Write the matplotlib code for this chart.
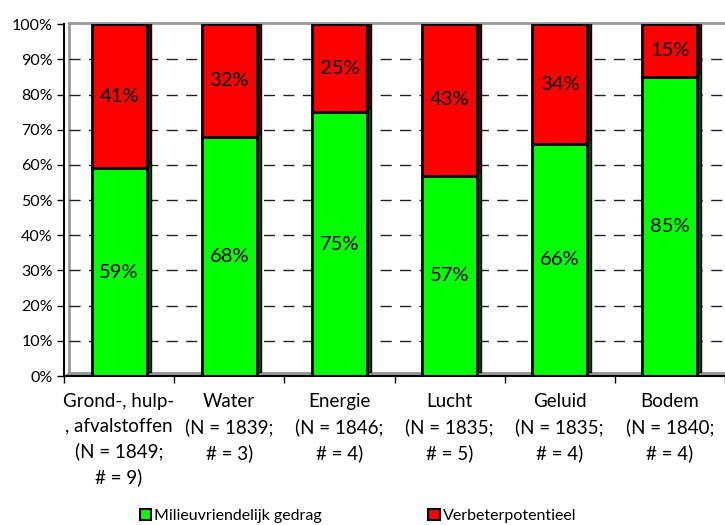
import matplotlib
matplotlib.use("Agg")
import matplotlib.pyplot as plt
from matplotlib.patches import Polygon, Patch

plt.rcParams['font.family'] = ['Lato', 'DejaVu Sans']

categories = ["Grond-, hulp-\n, afvalstoffen\n(N = 1849;\n# = 9)",
              "Water\n(N = 1839;\n# = 3)",
              "Energie\n(N = 1846;\n# = 4)",
              "Lucht\n(N = 1835;\n# = 5)",
              "Geluid\n(N = 1835;\n# = 4)",
              "Bodem\n(N = 1840;\n# = 4)"]
milieu = [59, 68, 75, 57, 66, 85]
verbeter = [41, 32, 25, 43, 34, 15]
series_names = ["Milieuvriendelijk gedrag", "Verbeterpotentieel"]
green = "#00FF00"
red = "#FF0000"
dark_green = "#005000"
dark_red = "#500000"

W, H = 725, 525
fig = plt.figure(figsize=(W / 100, H / 100), dpi=100)
left_px, right_px, bottom_px, top_px = 64, 725, 376, 24.3
ax = fig.add_axes([left_px / W, 1 - bottom_px / H, (right_px - left_px) / W, (bottom_px - top_px) / H])

n = len(categories)
ax.set_xlim(0, n)
ax.set_ylim(0, 100)
px_x = n / (right_px - left_px)
px_y = 100 / (bottom_px - top_px)
dx, dy = 5 * px_x, 4 * px_y

# back wall / floor (3D look)
floor = Polygon([(0, 0), (n + 1, 0), (n + 1 + dx, dy), (dx, dy)], closed=True,
                facecolor="#999999", edgecolor="none", zorder=1, clip_on=False)
ax.add_patch(floor)
ax.plot([dx, dx], [dy, 100 + 1.5 * px_y], color="#999999", lw=2, zorder=1, clip_on=False)
ax.plot([dx, n], [100 + 1.5 * px_y, 100 + 1.5 * px_y], color="#999999", lw=2, zorder=1, clip_on=False)

for yv in range(10, 100, 10):
    ax.plot([dx, n], [yv, yv], color="#222222", lw=1, linestyle=(0, (8, 6)), zorder=1.5)

x = [i + 0.5 for i in range(n)]
bw = 0.5
side = 4 * px_x
# side faces
ax.bar([xi + bw / 2 + side / 2 for xi in x], milieu, width=side, bottom=dy,
       color=dark_green, edgecolor="black", lw=1, zorder=2)
ax.bar([xi + bw / 2 + side / 2 for xi in x], verbeter, width=side,
       bottom=[m + dy for m in milieu], color=dark_red, edgecolor="black", lw=1, zorder=2)
# front faces
ax.bar(x, milieu, width=bw, color=green, edgecolor="black", lw=2, zorder=3)
ax.bar(x, verbeter, width=bw, bottom=milieu, color=red, edgecolor="black", lw=2, zorder=3)

for xi, m, v in zip(x, milieu, verbeter):
    ax.text(xi, m / 2, f"{m}%", ha="center", va="center", fontsize=14.5, zorder=5)
    ax.text(xi, m + v / 2, f"{v}%", ha="center", va="center", fontsize=14.5, zorder=5)

ax.set_yticks(range(0, 101, 10))
ax.set_yticklabels([f"{v}%" for v in range(0, 101, 10)], fontsize=11.5)
ax.set_xticks(range(0, n + 1))
ax.set_xticklabels([])
ax.set_xticks(x, minor=True)
ax.set_xticklabels(categories, minor=True, fontsize=13.5, linespacing=1.55)
ax.tick_params(axis="x", which="minor", length=0, pad=12)
ax.tick_params(axis="x", which="major", length=5, width=1, direction="out")
ax.tick_params(axis="y", length=5, width=1, direction="out", pad=3)

for s in ["top", "right"]:
    ax.spines[s].set_visible(False)
ax.spines["left"].set_linewidth(1.5)
ax.spines["bottom"].set_linewidth(1.5)
ax.spines["left"].set_zorder(4)
ax.spines["bottom"].set_zorder(4)

handles = [Patch(facecolor=green, edgecolor="black", lw=1.5),
           Patch(facecolor=red, edgecolor="black", lw=1.5)]
fig.legend(handles, series_names, loc="center", bbox_to_anchor=(358 / W, 1 - 516 / H),
           ncol=2, frameon=False, fontsize=11.5, handlelength=0.72, handleheight=0.72,
           handletextpad=0.2, columnspacing=6.63, borderaxespad=0)

fig.savefig("out.png", dpi=100)
